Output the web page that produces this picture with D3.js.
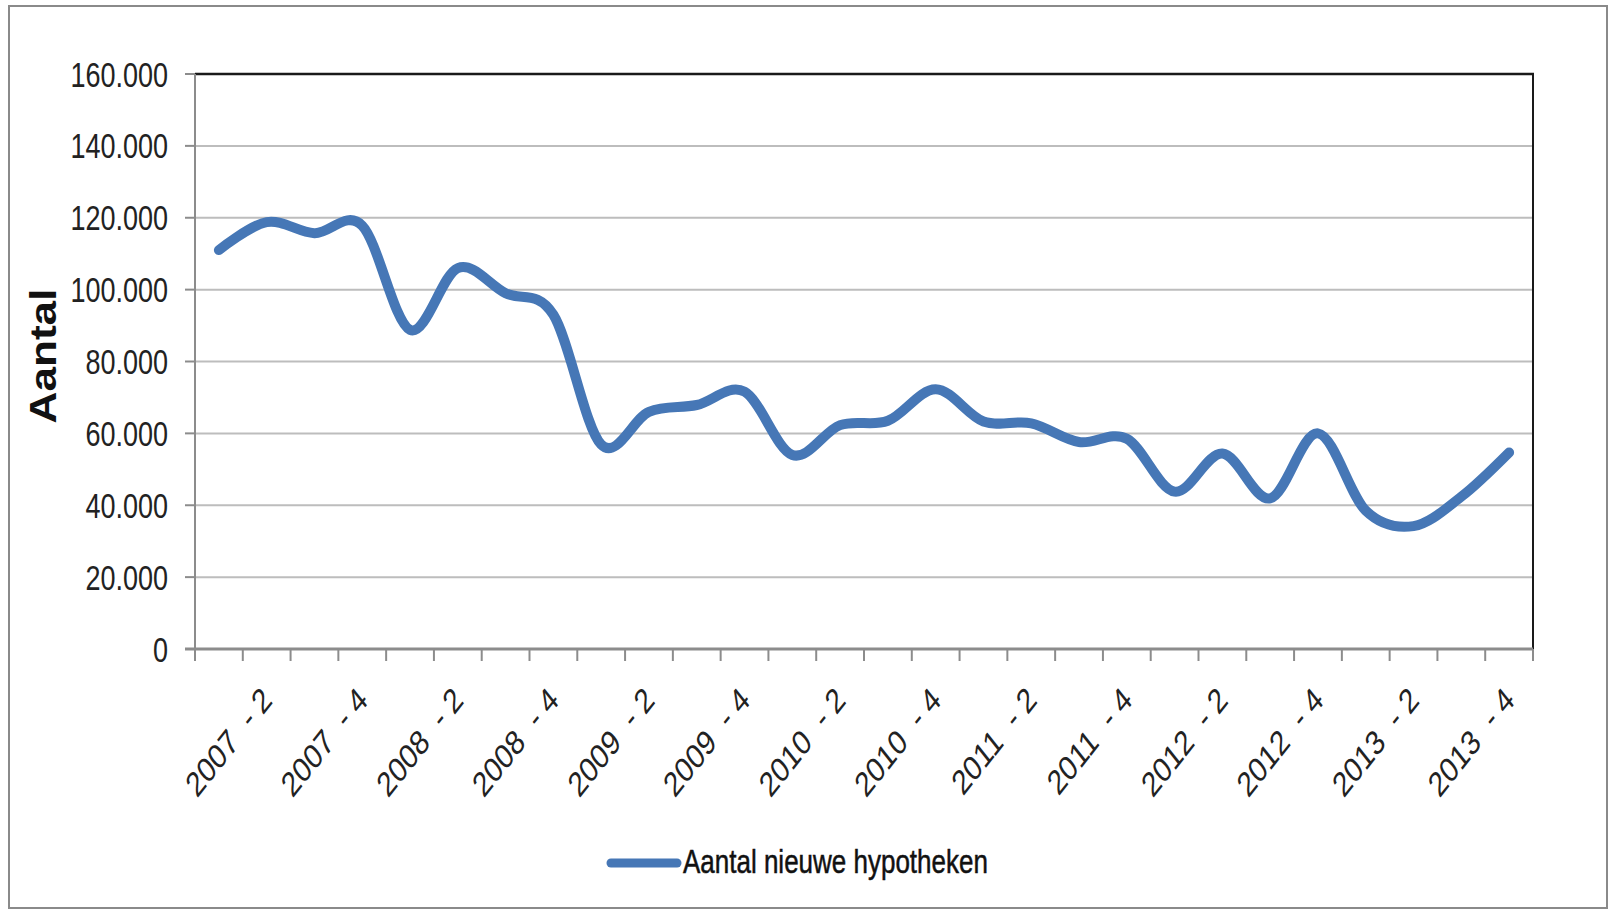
<!DOCTYPE html>
<html>
<head>
<meta charset="utf-8">
<script src="https://cdn.jsdelivr.net/npm/d3@7"></script>
<style>
  html, body { margin: 0; padding: 0; background: #ffffff; }
  svg { display: block; }
  text { font-family: "Liberation Sans", Arial, sans-serif; white-space: pre; }
</style>
</head>
<body>
<svg id="chart" width="1610" height="909"></svg>
<script>
// ---- data ----
const categories = [
  "2007  - 1", "2007  - 2", "2007  - 3", "2007  - 4",
  "2008  - 1", "2008  - 2", "2008  - 3", "2008  - 4",
  "2009  - 1", "2009  - 2", "2009  - 3", "2009  - 4",
  "2010  - 1", "2010  - 2", "2010  - 3", "2010  - 4",
  "2011  - 1", "2011  - 2", "2011  - 3", "2011  - 4",
  "2012  - 1", "2012  - 2", "2012  - 3", "2012  - 4",
  "2013  - 1", "2013  - 2", "2013  - 3", "2013  - 4"
];
const values = [
  111000, 118800, 115700, 117800,
  88800, 106000, 99000, 93000,
  56900, 66000, 67900, 71600,
  54000, 62300, 63500, 72300,
  63300, 62800, 57600, 58500,
  43800, 54400, 41900, 60000,
  38500, 34200, 42400, 54700
];
const yTicks = [0, 20000, 40000, 60000, 80000, 100000, 120000, 140000, 160000];
const seriesName = "Aantal nieuwe hypotheken";
const yTitle = "Aantal";

// ---- layout ----
const svg = d3.select("#chart");
const plot = { left: 195, right: 1533, top: 74, bottom: 649 };
const lineColor = "#4677b6";

const x = d3.scaleBand().domain(categories).range([plot.left, plot.right]).padding(0);
const y = d3.scaleLinear().domain([0, 160000]).range([plot.bottom, plot.top]);
const nl = d3.formatLocale({ decimal: ",", thousands: ".", grouping: [3], currency: ["€", ""] });
const fmt = nl.format(",");

// outer frame
svg.append("rect")
  .attr("x", 9).attr("y", 6).attr("width", 1598).attr("height", 902)
  .attr("fill", "#ffffff").attr("stroke", "#8a8a8a").attr("stroke-width", 2);

// gridlines
svg.append("g").selectAll("line").data(yTicks.filter(d => d > 0 && d < 160000)).join("line")
  .attr("x1", plot.left).attr("x2", plot.right)
  .attr("y1", d => y(d)).attr("y2", d => y(d))
  .attr("stroke", "#bdbdbd").attr("stroke-width", 2);

// top and right border of plot (black)
svg.append("line").attr("x1", plot.left).attr("x2", plot.right + 1)
  .attr("y1", y(160000)).attr("y2", y(160000))
  .attr("stroke", "#1a1a1a").attr("stroke-width", 2.5);
svg.append("line").attr("x1", plot.right).attr("x2", plot.right)
  .attr("y1", y(160000)).attr("y2", y(0))
  .attr("stroke", "#1a1a1a").attr("stroke-width", 2);

// y axis line and ticks
svg.append("line").attr("x1", plot.left).attr("x2", plot.left)
  .attr("y1", y(160000)).attr("y2", y(0))
  .attr("stroke", "#8c8c8c").attr("stroke-width", 2);
svg.append("g").selectAll("line").data(yTicks).join("line")
  .attr("x1", plot.left - 10).attr("x2", plot.left)
  .attr("y1", d => y(d)).attr("y2", d => y(d))
  .attr("stroke", "#8c8c8c").attr("stroke-width", 2);

// y tick labels
svg.append("g").selectAll("text").data(yTicks).join("text")
  .attr("transform", d => `translate(168,${y(d)}) scale(1,1.29)`)
  .attr("text-anchor", "end")
  .attr("dy", "0.36em")
  .attr("font-size", 27)
  .attr("fill", "#222")
  .text(d => fmt(d));

// x axis line and ticks (between categories)
svg.append("line").attr("x1", plot.left - 10).attr("x2", plot.right)
  .attr("y1", y(0)).attr("y2", y(0))
  .attr("stroke", "#8c8c8c").attr("stroke-width", 3);
const tickPos = categories.map(c => x(c)).concat([plot.right]);
svg.append("g").selectAll("line").data(tickPos).join("line")
  .attr("x1", d => d).attr("x2", d => d)
  .attr("y1", y(0)).attr("y2", y(0) + 12)
  .attr("stroke", "#8c8c8c").attr("stroke-width", 2);

// x tick labels (every other category), rotated
svg.append("g").selectAll("text")
  .data(categories.filter((c, i) => i % 2 === 1)).join("text")
  .attr("transform", c => `translate(${x(c) + x.bandwidth() / 2 + 7},${y(0) + 53}) scale(1,1.26) rotate(-45)`)
  .attr("text-anchor", "end")
  .attr("font-size", 27.5)
  .attr("fill", "#222")
  .text(c => c);

// y axis title
svg.append("text")
  .attr("transform", `translate(56,356) scale(1,1.17) rotate(-90)`)
  .attr("text-anchor", "middle")
  .attr("font-size", 37.7)
  .attr("font-weight", "bold")
  .attr("fill", "#111")
  .text(yTitle);

// the line
const line = d3.line()
  .x((d, i) => x(categories[i]) + x.bandwidth() / 2)
  .y(d => y(d))
  .curve(d3.curveCardinal.tension(0));
svg.append("path")
  .datum(values)
  .attr("d", line)
  .attr("fill", "none")
  .attr("stroke", lineColor)
  .attr("stroke-width", 10)
  .attr("stroke-linecap", "round")
  .attr("stroke-linejoin", "round");

// legend
const lg = svg.append("g");
lg.append("line").attr("x1", 611).attr("x2", 677).attr("y1", 863).attr("y2", 863)
  .attr("stroke", lineColor).attr("stroke-width", 9).attr("stroke-linecap", "round");
lg.append("text")
  .attr("transform", "translate(683,873) scale(1,1.3)")
  .attr("font-size", 26)
  .attr("fill", "#111")
  .attr("stroke", "#111")
  .attr("stroke-width", 0.4)
  .text(seriesName);
</script>
</body>
</html>
